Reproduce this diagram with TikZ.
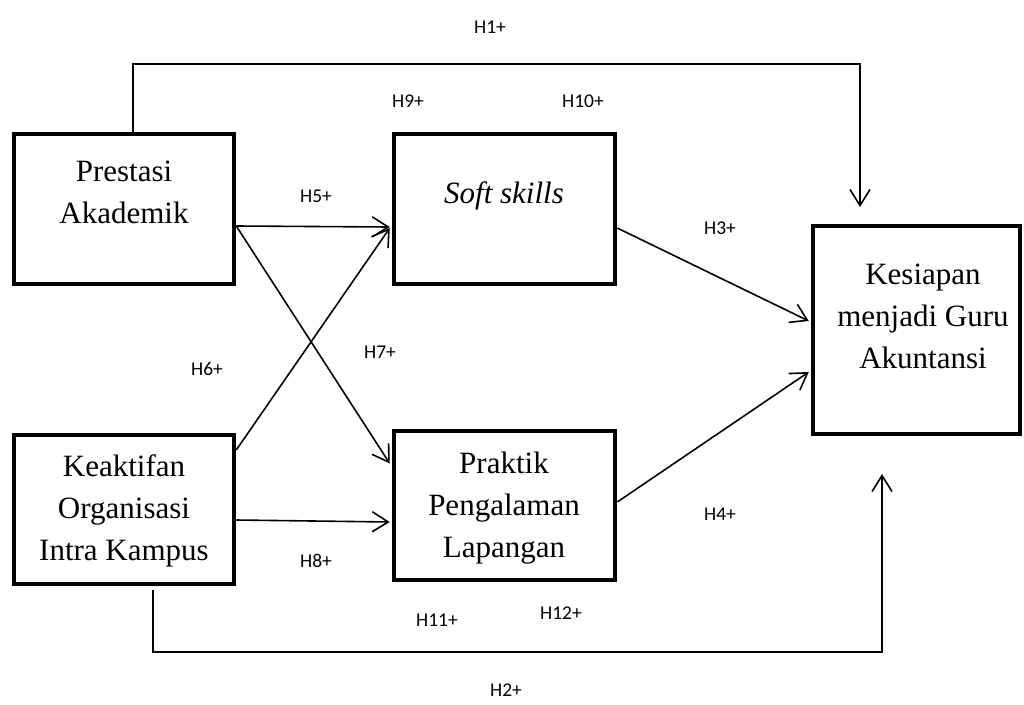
\documentclass[tikz,border=0pt]{standalone}
\usepackage{fontspec}
\setmainfont{Liberation Serif}
\newfontfamily\hypfont{Carlito}
\usetikzlibrary{arrows.meta}

\begin{document}
\begin{tikzpicture}[x=1pt, y=-1pt, line width=1.6pt,
		conn/.style = {-{Straight Barb[length=16pt, width=20pt]}},
		hyp/.style = {font=\hypfont\fontsize{19.5}{22}\selectfont, inner sep=1pt}]
	\useasboundingbox (0,0) rectangle (1024,704);

	\begin{scope}[every node/.style = {shape=rectangle, draw, line width=4.5pt, inner sep=0pt}]
		\node (PA) [minimum width=220pt, minimum height=150pt] at (124,209) {};
		\node (SS) [minimum width=221pt, minimum height=150pt] at (504.5,209) {};
		\node (KO) [minimum width=220pt, minimum height=149pt] at (124,509.5) {};
		\node (PPL) [minimum width=221pt, minimum height=149pt] at (504.5,505.5) {};
		\node (KG) [minimum width=207pt, minimum height=208pt] at (916.5,330) {};
	\end{scope}

	% text sits on the baseline of its last line
	\begin{scope}[every node/.style = {align=center, anchor=base, font=\fontsize{31}{42}\selectfont}]
		\node (PAtxt) at (124,223) {Prestasi\\Akademik};
		\node (SStxt) at (504,203) {\itshape Soft skills};
		\node (KOtxt) at (124,560) {Keaktifan\\Organisasi\\Intra Kampus};
		\node (PPLtxt) at (504,557) {Praktik\\Pengalaman\\Lapangan};
		\node (KGtxt) at (923,368) {Kesiapan\\menjadi Guru\\Akuntansi};
	\end{scope}

	% paths into the mediators
	\draw[conn] ([yshift=-17pt]PA.east) -- ([shift={(-2pt,-18pt)}]SS.west);
	\draw[conn] ([yshift=-17pt]PA.east) -- ([shift={(-2pt,42pt)}]PPL.west);
	\draw[conn] ([yshift=59.5pt]KO.east) -- ([shift={(-2pt,-19pt)}]SS.west);
	\draw[conn] ([yshift=-10.5pt]KO.east) -- ([shift={(-2pt,-16.5pt)}]PPL.west);
	% paths into the outcome
	\draw[conn] ([yshift=-19pt]SS.east) -- ([shift={(-2pt,9pt)}]KG.west);
	\draw[conn] ([yshift=3.5pt]PPL.east) -- ([shift={(-2pt,-42pt)}]KG.west);

	% direct paths
	\coordinate (h1top) at (860,64);
	\coordinate (h1end) at (860,207);
	\draw[conn] ([xshift=9pt]PA.north) |- (h1top) -- (h1end);
	\coordinate (h2bot) at (882,652);
	\coordinate (h2end) at (882,474);
	\draw[conn] ([shift={(29pt,-4pt)}]KO.south) |- (h2bot) -- (h2end);

	\node (H1) [hyp] at (490,27) {H1+};
	\node (H2) [hyp] at (506,690) {H2+};
	\node (H3) [hyp] at (720,228) {H3+};
	\node (H4) [hyp] at (720,514) {H4+};
	\node (H5) [hyp] at (316,196) {H5+};
	\node (H6) [hyp] at (207,369) {H6+};
	\node (H7) [hyp] at (380,352) {H7+};
	\node (H8) [hyp] at (316,561) {H8+};
	\node (H9) [hyp] at (408,101) {H9+};
	\node (H10) [hyp] at (583,101) {H10+};
	\node (H11) [hyp] at (437,620) {H11+};
	\node (H12) [hyp] at (561,613) {H12+};
\end{tikzpicture}
\end{document}
